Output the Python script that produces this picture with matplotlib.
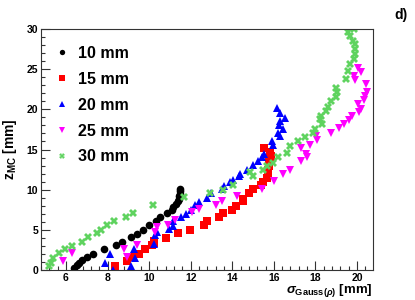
# Chart: z_MC versus Gaussian width for five source distances
# Output: out.png (415x300)

import matplotlib
matplotlib.use("Agg")
import matplotlib.pyplot as plt
from matplotlib.ticker import MultipleLocator


# ------------------------------
# Data
# ------------------------------
LABELS = ["10 mm", "15 mm", "20 mm", "25 mm", "30 mm"]

sigma_10 = [6.38, 6.51, 6.63, 6.78, 7.00, 7.28, 7.81, 8.40, 8.69, 9.11, 9.40,
            9.69, 10.00, 10.33, 10.52, 10.84, 11.08, 11.16, 11.27, 11.40,
            11.43, 11.45, 11.48, 11.50, 11.51]
z_10 = [0.2, 0.6, 0.9, 1.25, 1.6, 2.05, 2.6, 3.05, 3.5, 4.05, 4.45,
        5.0, 5.55, 6.1, 6.6, 7.1, 7.5, 7.8, 8.2, 8.55,
        8.9, 9.2, 9.5, 9.8, 10.1]

sigma_15 = [8.37, 8.92, 9.13, 9.51, 9.81, 10.15, 10.22, 10.25, 10.79, 11.38,
            11.96, 12.63, 12.79, 13.37, 13.56, 13.97, 14.16, 14.50, 14.52,
            14.81, 15.00, 15.36, 15.49, 15.65, 15.70, 15.73, 15.76, 15.77,
            15.81, 15.84, 15.81, 15.52]
z_15 = [0.55, 1.08, 1.58, 2.05, 2.58, 3.05, 3.3, 3.67, 4.0, 4.58,
        5.04, 5.55, 6.06, 6.54, 7.08, 7.5, 8.0, 8.55, 8.83,
        9.58, 10.08, 10.55, 10.96, 11.46, 11.88, 12.4, 12.9, 13.4,
        13.8, 14.25, 14.67, 15.2]

sigma_20 = [8.27, 9.11, 7.86, 9.32, 8.13, 9.28, 10.22, 10.29, 10.36, 10.97,
            11.16, 11.13, 11.53, 11.77, 12.01, 12.19, 12.41, 12.80, 13.00,
            13.53, 13.60, 13.88, 14.04, 14.33, 14.37, 14.72, 15.00, 15.25,
            15.41, 15.53, 15.94, 15.92, 16.29, 16.21, 16.45, 16.25, 16.29,
            16.53, 16.29, 16.13]
z_20 = [0.0, 0.5, 0.92, 1.46, 1.96, 2.58, 3.25, 4.38, 4.67, 5.13,
        5.5, 6.04, 6.54, 7.0, 7.42, 8.04, 8.44, 9.0, 9.58,
        10.08, 10.5, 10.96, 11.17, 11.67, 12.0, 12.5, 13.1, 13.54,
        14.08, 14.5, 15.5, 16.0, 16.67, 17.08, 17.5, 18.0, 18.54,
        18.96, 19.58, 20.13]

sigma_25 = [5.84, 6.27, 8.92, 8.79, 9.43, 10.28, 10.36, 10.89, 11.24, 12.04,
            12.41, 13.21, 13.49, 14.25, 15.41, 16.00, 16.45, 16.77, 17.33,
            17.60, 17.54, 17.33, 17.73, 18.08, 18.05, 18.74, 19.14, 19.37,
            19.61, 19.74, 20.09, 20.18, 20.05, 20.33, 20.38, 20.46, 20.42,
            19.90, 19.85, 20.17, 20.05]
z_25 = [1.13, 2.08, 1.58, 2.63, 3.13, 4.71, 5.33, 5.63, 6.17, 7.17,
        7.58, 8.13, 8.63, 9.17, 10.08, 11.04, 12.0, 12.42, 13.63,
        14.08, 14.5, 15.2, 15.54, 16.17, 16.67, 17.08, 17.63, 18.13,
        18.67, 19.17, 19.67, 20.08, 20.63, 21.13, 21.67, 22.21, 23.13,
        23.67, 24.17, 24.67, 25.13]

sigma_30 = [5.20, 5.26, 5.39, 5.65, 5.97, 6.27, 6.77, 7.04, 7.48, 7.68,
            7.96, 8.31, 8.87, 9.21, 10.17, 11.67, 12.92, 13.56, 14.04,
            15.00, 14.85, 15.49, 15.65, 15.97, 16.21, 16.61, 16.77, 17.17,
            17.49, 17.86, 17.97, 18.32, 18.21, 18.29, 18.50, 18.61, 18.77,
            19.01, 19.04, 19.01, 19.45, 19.57, 19.65, 19.85, 19.90, 19.90,
            19.90, 19.81, 19.65, 19.57, 19.85]
z_30 = [0.5, 0.92, 1.46, 2.08, 2.58, 3.04, 3.54, 4.08, 4.58, 5.0,
        5.54, 6.04, 6.58, 7.08, 8.04, 9.04, 9.58, 9.92, 10.63,
        11.67, 12.17, 12.5, 12.92, 13.33, 14.08, 14.58, 15.42, 16.04,
        16.54, 17.08, 17.58, 18.13, 18.75, 19.17, 19.79, 20.33, 21.04,
        21.54, 22.17, 22.71, 23.83, 24.79, 25.63, 26.25, 26.88, 27.5,
        28.13, 28.54, 29.17, 29.58, 30.0]


# ------------------------------
# Styles
# ------------------------------
SERIES = [
    (sigma_10, z_10, "o", "#000000"),
    (sigma_15, z_15, "s", "#ff0000"),
    (sigma_20, z_20, "^", "#0000ff"),
    (sigma_25, z_25, "v", "#ff00ff"),
    (sigma_30, z_30, "X", "#5fd35f"),
]

plt.rcParams["font.family"] = "Liberation Sans"
plt.rcParams["font.weight"] = "bold"
plt.rcParams["mathtext.fontset"] = "custom"
plt.rcParams["mathtext.rm"] = "Liberation Sans:bold"
plt.rcParams["mathtext.bf"] = "Liberation Sans:bold"
plt.rcParams["mathtext.it"] = "Liberation Sans:italic"
plt.rcParams["mathtext.sf"] = "Liberation Sans:bold"


# ------------------------------
# Plot
# ------------------------------
def draw():
    fig = plt.figure(figsize=(4.15, 3.0), dpi=100)
    ax = fig.add_axes([41 / 415, 30 / 300, 332 / 415, 241 / 300])

    handles = []
    for (xs, ys, marker, color), label in zip(SERIES, LABELS):
        (h,) = ax.plot(xs, ys, linestyle="none", marker=marker, color=color,
                       markersize=5.5, markeredgewidth=0, label=label)
        handles.append(h)

    ax.set_xlim(4.8, 20.77)
    ax.set_ylim(0, 30)

    ax.xaxis.set_major_locator(MultipleLocator(2))
    ax.xaxis.set_minor_locator(MultipleLocator(0.4))
    ax.yaxis.set_major_locator(MultipleLocator(5))
    ax.yaxis.set_minor_locator(MultipleLocator(1))

    ax.tick_params(which="both", direction="in", top=False, right=False,
                   labelsize=7.5, width=0.8, color="#333333")
    ax.tick_params(which="major", length=6.5, pad=2.0)
    ax.tick_params(which="minor", length=3.2)
    for lab in ax.get_xticklabels() + ax.get_yticklabels():
        lab.set_fontweight("bold")

    for sp in ax.spines.values():
        sp.set_color("#333333")
        sp.set_linewidth(0.8)

    ax.set_xlabel(r"$\sigma_{\mathbf{Gauss(}\mathit{\rho}\mathbf{)}}$ [mm]",
                  fontsize=9.5, fontweight="bold")
    ax.xaxis.set_label_coords(1.0, -0.05)
    ax.xaxis.label.set_horizontalalignment("right")

    ax.set_ylabel(r"$\mathbf{z}_{\mathbf{MC}}$ [mm]", fontsize=10,
                  fontweight="bold")
    ax.yaxis.set_label_coords(-0.066, 0.5)

    ax.legend(handles=handles, loc="upper left", frameon=False,
              bbox_to_anchor=(54 / 415, 1 - 46 / 300),
              bbox_transform=fig.transFigure, borderpad=0, borderaxespad=0,
              handlelength=1.0, handletextpad=0.5, labelspacing=0.68,
              markerscale=0.7, prop={"size": 11.5, "weight": "bold"})

    fig.text(401 / 415, 1 - 15 / 300, "d)", fontsize=10, fontweight="bold",
             ha="center", va="center")

    fig.savefig("out.png", dpi=100)
    plt.close(fig)


if __name__ == "__main__":
    draw()
